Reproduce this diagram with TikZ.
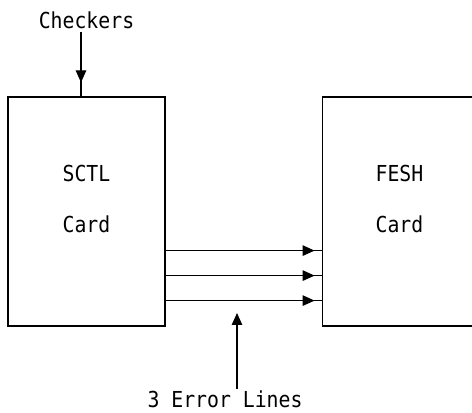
\documentclass[tikz,border=0pt]{standalone}
\usepackage{fontspec}
\newfontfamily\cardfont[FakeStretch=0.9]{DejaVu Sans Mono}
\usetikzlibrary{positioning, arrows.meta, decorations.markings}

\tikzset{
  card/.style={draw, line width=1.2pt, minimum width=157pt, minimum height=229pt, inner sep=0pt},
  lbl/.style={font=\cardfont\fontsize{22}{26}\selectfont, inner sep=3pt},
  wire/.style={line width=1.2pt},
  tip/.style={-{Triangle[length=12pt,width=10.5pt]}},
  midtip/.style={postaction={decorate}, decoration={markings,
      mark=at position #1 with {\arrow{Triangle[length=12pt,width=10.5pt]}}}},
}

\begin{document}
\begin{tikzpicture}[x=1pt,y=1pt]
\clip (0,0) rectangle (472,413);

\node[card] (sctl) at (86.5,201.5) {};
\node[card, right=156pt of sctl] (fesh) {};
\node[lbl, above=64pt of sctl] (checkers) {Checkers};

\node[lbl, anchor=base] (sctlname) at (86.5,231) {SCTL};
\node[lbl, anchor=base] (sctlcard) at (86.5,180.5) {Card};
\node[lbl, anchor=base] (feshname) at (399.5,231) {FESH};
\node[lbl, anchor=base] (feshcard) at (399.5,180.5) {Card};

\node[lbl, anchor=base, inner sep=1pt] (errlabel) at (225,5.5) {3 Error Lines};
\coordinate (checkin) at ([xshift=-5.5pt]sctl.north);
\coordinate (errtip) at (237,100);

% checker input
\draw[wire, midtip=-14pt] (checkers.south -| checkin) -- (checkin);

% the three error lines
\draw[wire, midtip=-7pt] ([yshift=76pt]sctl.south east) -- ([yshift=76pt]fesh.south west);
\draw[wire, midtip=-7pt] ([yshift=51pt]sctl.south east) -- ([yshift=51pt]fesh.south west);
\draw[wire, midtip=-7pt] ([yshift=26pt]sctl.south east) -- ([yshift=26pt]fesh.south west);

\draw[wire, tip] ([xshift=12pt, yshift=1pt]errlabel.north) -- (errtip);
\end{tikzpicture}
\end{document}
